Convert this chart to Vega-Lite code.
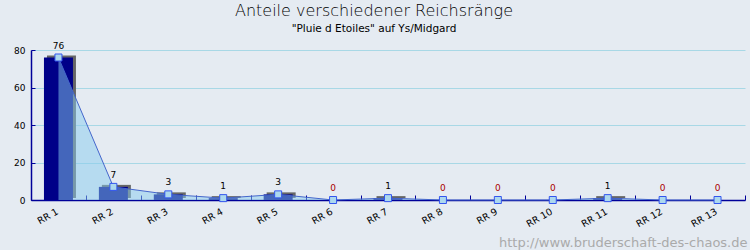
{
  "$schema": "https://vega.github.io/schema/vega-lite/v6.json",
  "autosize": {"type": "none"},
  "width": 714,
  "height": 150,
  "padding": {"left": 31, "top": 50, "right": 5, "bottom": 50},
  "background": "#e5ebf2",
  "config": {
    "view": {"stroke": null},
    "font": "DejaVu Sans",
    "axis": {"labelFont": "DejaVu Sans", "labelColor": "#000000", "labelFontSize": 9}
  },
  "title": {
    "text": "Anteile verschiedener Reichsränge",
    "subtitle": "\"Pluie d Etoiles\" auf Ys/Midgard",
    "font": "DejaVu Sans",
    "fontSize": 16,
    "fontWeight": 200,
    "color": "#000000",
    "subtitleFont": "DejaVu Sans",
    "subtitleFontSize": 10.5,
    "subtitleFontWeight": "normal",
    "subtitleColor": "#000000",
    "subtitlePadding": 5,
    "anchor": "middle",
    "dx": -14,
    "offset": 7
  },
  "data": {
    "values": [
      {"rang": "RR 1", "anzahl": 76},
      {"rang": "RR 2", "anzahl": 7},
      {"rang": "RR 3", "anzahl": 3},
      {"rang": "RR 4", "anzahl": 1},
      {"rang": "RR 5", "anzahl": 3},
      {"rang": "RR 6", "anzahl": 0},
      {"rang": "RR 7", "anzahl": 1},
      {"rang": "RR 8", "anzahl": 0},
      {"rang": "RR 9", "anzahl": 0},
      {"rang": "RR 10", "anzahl": 0},
      {"rang": "RR 11", "anzahl": 1},
      {"rang": "RR 12", "anzahl": 0},
      {"rang": "RR 13", "anzahl": 0}
    ]
  },
  "encoding": {
    "x": {
      "field": "rang",
      "type": "nominal",
      "sort": null,
      "scale": {"paddingInner": 0, "paddingOuter": 0},
      "axis": {
        "title": "http://www.bruderschaft-des-chaos.de",
        "titleAnchor": "end",
        "titleAlign": "right",
        "titleBaseline": "alphabetic",
        "titleX": 716,
        "titleY": 46,
        "titleColor": "#aaaaaa",
        "titleFontSize": 13,
        "titleFontWeight": "normal",
        "titleFont": "DejaVu Sans",
        "labelAngle": -30,
        "labelAlign": "right",
        "labelBaseline": "top",
        "labelPadding": 11,
        "labelOffset": -4,
        "labelFontSize": 9.5,
        "tickBand": "extent",
        "tickSize": -5,
        "tickColor": "#000099",
        "domainColor": "#000099",
        "domainWidth": 1.5,
        "grid": false
      }
    },
    "y": {
      "field": "anzahl",
      "type": "quantitative",
      "scale": {"domain": [0, 80]},
      "axis": {
        "title": null,
        "values": [0, 20, 40, 60, 80],
        "tickSize": -4,
        "labelPadding": 10,
        "tickColor": "#000099",
        "domainColor": "#000099",
        "domainWidth": 1.5,
        "gridColor": "#a8d8e6",
        "gridWidth": 1
      }
    }
  },
  "layer": [
    {
      "mark": {"type": "bar", "width": 29, "color": "#666666", "xOffset": 3, "x2Offset": 3, "yOffset": -2}
    },
    {
      "mark": {"type": "bar", "width": 29, "color": "#000088"}
    },
    {
      "mark": {"type": "area", "color": "#88ccee", "opacity": 0.5},
      "encoding": {"x": {"field": "rang", "type": "nominal", "sort": null, "bandPosition": 0.5}}
    },
    {
      "mark": {"type": "line", "color": "#4466cc", "strokeWidth": 1},
      "encoding": {"x": {"field": "rang", "type": "nominal", "sort": null, "bandPosition": 0.5}}
    },
    {
      "mark": {"type": "square", "size": 49, "filled": true, "fill": "#acd8ee", "stroke": "#3355ee", "strokeWidth": 1, "opacity": 1},
      "encoding": {"x": {"field": "rang", "type": "nominal", "sort": null, "bandPosition": 0.5}}
    },
    {
      "mark": {"type": "text", "fontSize": 9, "font": "DejaVu Sans", "baseline": "alphabetic", "dy": -9},
      "encoding": {
        "x": {"field": "rang", "type": "nominal", "sort": null, "bandPosition": 0.5},
        "text": {"field": "anzahl", "type": "quantitative"},
        "color": {"condition": {"test": "datum.anzahl == 0", "value": "#aa0000"}, "value": "#000000"}
      }
    }
  ]
}
